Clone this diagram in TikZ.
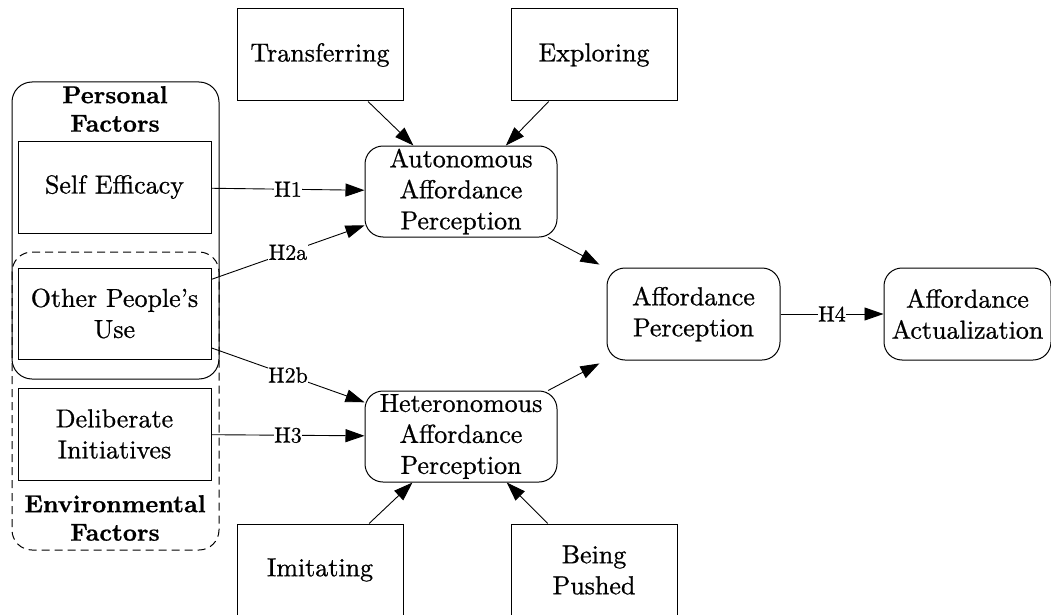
\documentclass[tikz,border=0pt]{standalone}
\usepackage{fontspec}
\setmainfont{lmroman10-regular.otf}[BoldFont=lmroman10-bold.otf, UprightFeatures={FakeBold=0.8}, BoldFeatures={FakeBold=0.8}]
\usetikzlibrary{arrows.meta,positioning}
\tikzset{
  box/.style={draw, line width=1pt, minimum width=166pt, minimum height=92pt,
    inner sep=2pt, align=center, font=\fontsize{26}{31}\selectfont},
  rbox/.style={box, rounded corners=18pt},
  grp/.style={draw, line width=1pt, rounded corners=20pt},
  grplabel/.style={align=center, inner sep=0pt, font=\bfseries\fontsize{24.5}{28.5}\selectfont},
  link/.style={line width=0.9pt, -{Triangle[length=19pt,width=13pt]}},
  hyp/.style={midway, fill=white, inner sep=0.5pt, font=\fontsize{22}{26}\selectfont},
}

\begin{document}
\begin{tikzpicture}[x=1pt, y=-1pt]
\useasboundingbox (0,0) rectangle (1051,615);

% factor groups
\draw[grp] (12,82) rectangle (219,379);
\draw[grp, dash pattern=on 8pt off 5pt] (12,252) rectangle (219,550);
\node[grplabel] (pf) at (115,109) {Personal\\Factors};
\node[grplabel] (ef) at (115,518) {Environmental\\Factors};

% antecedents
\node[box, minimum width=193pt] (se) at (114.5,187) {Self Efficacy};
\node[box, minimum width=193pt, minimum height=91pt] (opu) at (114.5,313.5) {Other People's\\Use};
\node[box, minimum width=193pt] (di) at (114.5,434) {Deliberate\\Initiatives};

% perceptions
\node[rbox, minimum width=192pt, minimum height=91pt] (auto) at (461,191.5) {Autonomous\\Affordance\\Perception};
\node[rbox, minimum width=192pt, minimum height=91pt] (het) at (461,436.5) {Heteronomous\\Affordance\\Perception};
\node[rbox, minimum width=173pt] (ap) at (693.5,314) {Affordance\\Perception};
\node[rbox, right=103pt of ap, minimum width=167pt] (aa) {Affordance\\Actualization};

% strategies
\node[box] (tra) at (320,55) {Transferring};
\node[box] (exp) at (594,55) {Exploring};
\node[box] (imi) at (320,570) {Imitating};
\node[box] (bp) at (594,570) {Being\\Pushed};

% links
\draw[link] (tra) -- (auto);
\draw[link] (exp) -- (auto);
\draw[link] (imi) -- (het);
\draw[link] (bp) -- (het);
\draw[link] (se) -- node[hyp] {H1} (auto);
\draw[link] (opu) -- node[hyp] {H2a} (auto);
\draw[link] (opu) -- node[hyp] {H2b} (het);
\draw[link] (di) -- node[hyp] {H3} (het);
\draw[link, shorten >=8pt] (auto) -- (ap);
\draw[link, shorten >=8pt] (het) -- (ap);
\draw[link] (ap) -- node[hyp] {H4} (aa);
\end{tikzpicture}
\end{document}
